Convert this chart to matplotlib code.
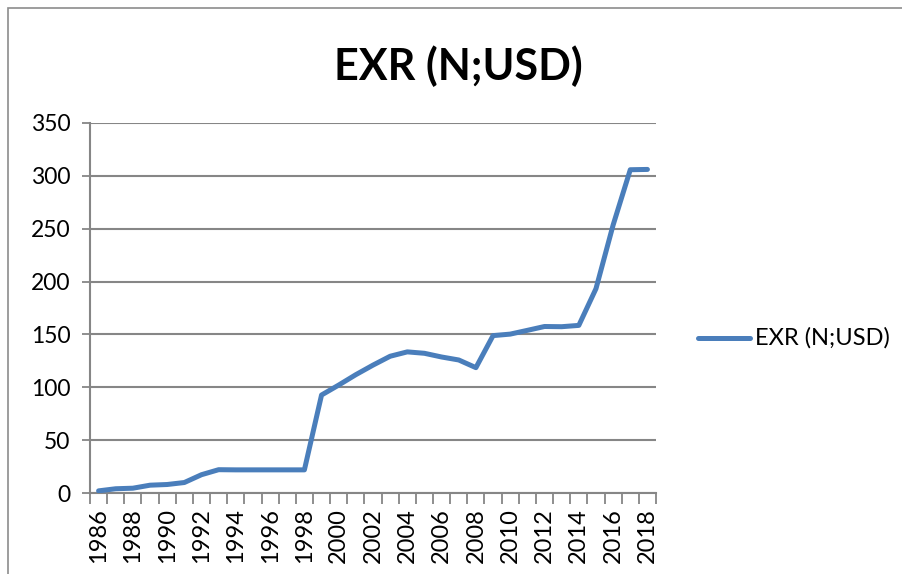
import matplotlib
matplotlib.use("Agg")
import matplotlib.pyplot as plt
import numpy as np
from matplotlib.patches import Rectangle
from matplotlib.lines import Line2D

years = list(range(1986, 2019))
exr = [2.02, 4.02, 4.54, 7.39, 8.04, 9.91, 17.30, 22.05, 21.89, 21.89, 21.89,
       21.89, 21.89, 92.69, 102.10, 111.94, 120.97, 129.36, 133.50, 132.15,
       128.65, 125.83, 118.57, 148.88, 150.30, 153.86, 157.50, 157.31, 158.55,
       193.28, 253.49, 305.79, 306.08]
series_name = "EXR (N;USD)"
y_ticks = [0, 50, 100, 150, 200, 250, 300, 350]

plt.rcParams['font.family'] = ['Lato', 'DejaVu Sans']

W, H = 903, 574
fig = plt.figure(figsize=(W / 100, H / 100), dpi=100)
fig.patch.set_facecolor('white')

# chart frame (outer border)
fig.add_artist(Rectangle((8 / W, -0.1), 1.2, 1 - 8 / H + 0.1, transform=fig.transFigure,
                         fill=False, edgecolor='#8c8c8c', linewidth=1.2))

left, right, top, bottom = 90, 656, 123, 493
ax = fig.add_axes([left / W, (H - bottom) / H, (right - left) / W, (bottom - top) / H])

x = np.arange(len(years))
ax.plot(x, exr, color='#4A7EBB', linewidth=3.6, solid_joinstyle='round',
        solid_capstyle='round', label=series_name, zorder=3)

ax.set_xlim(-0.5, len(years) - 0.5)
ax.set_ylim(0, 350)
ax.set_yticks(y_ticks)
ax.set_yticklabels([str(v) for v in y_ticks], fontsize=16.5)
ax.yaxis.grid(True, color='#868686', linewidth=1.5)
ax.set_axisbelow(True)

ax.set_xticks(x[::2])
ax.set_xticklabels([str(y) for y in years[::2]], rotation=90, fontsize=17)
ax.set_xticks(np.arange(-0.5, len(years)), minor=True)
ax.tick_params(axis='x', which='major', length=0, pad=11)
ax.tick_params(axis='x', which='minor', length=8, width=1.3, color='#868686')
ax.tick_params(axis='y', which='major', length=6, width=1.3, color='#868686', pad=8)

for s in ['top', 'right']:
    ax.spines[s].set_visible(False)
for s in ['left', 'bottom']:
    ax.spines[s].set_color('#868686')
    ax.spines[s].set_linewidth(1.5)

fig.text(458 / W, 1 - 66 / H, "EXR (N;USD)", ha='center', va='center',
         fontsize=31, fontweight='bold')

# legend
fig.add_artist(Line2D([698 / W, 750 / W], [1 - 338 / H, 1 - 338 / H], transform=fig.transFigure,
                      color='#4A7EBB', linewidth=3.6, solid_capstyle='round'))
fig.text(755 / W, 1 - 338 / H, series_name, ha='left', va='center', fontsize=17)

fig.savefig("out.png", dpi=100, facecolor='white')
